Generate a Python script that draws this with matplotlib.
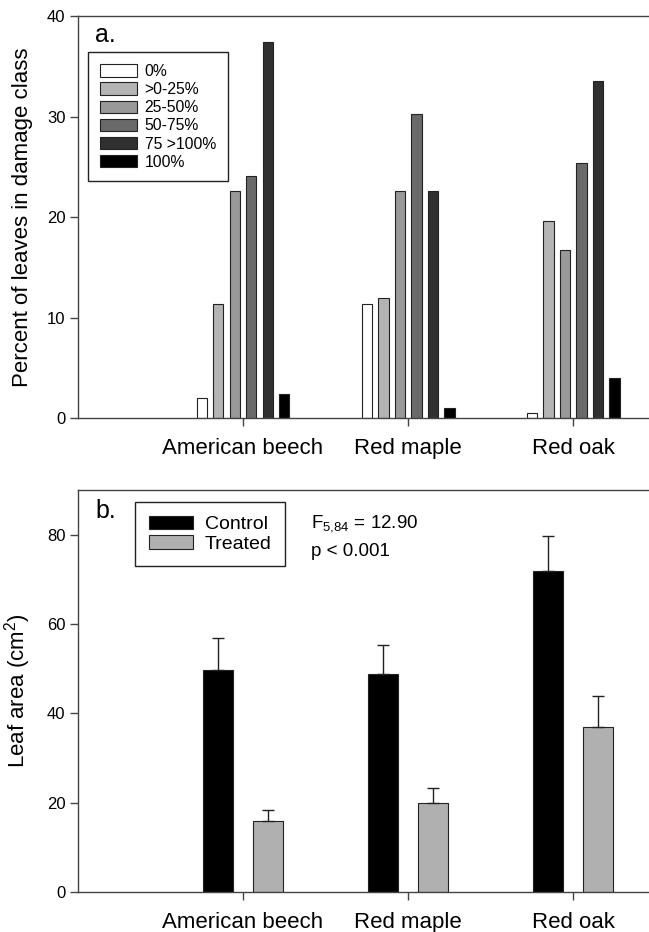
import numpy as np
import matplotlib.pyplot as plt

plt.rcParams['font.family'] = ['Liberation Sans', 'DejaVu Sans']
plt.rcParams['mathtext.fontset'] = 'custom'
plt.rcParams['mathtext.rm'] = 'Liberation Sans'
plt.rcParams['mathtext.it'] = 'Liberation Sans'

species = ["American beech", "Red maple", "Red oak"]

# panel a: percent of leaves in each damage class
damage_classes = ["0%", ">0-25%", "25-50%", "50-75%", "75 >100%", "100%"]
pct_beech = [2.0, 11.3, 22.6, 24.1, 37.4, 2.4]
pct_maple = [11.3, 11.9, 22.6, 30.3, 22.6, 1.0]
pct_oak = [0.5, 19.6, 16.7, 25.4, 33.5, 4.0]

# panel b: leaf area, mean and SE
control_mean = [49.7, 48.9, 71.9]
control_se = [7.1, 6.5, 7.7]
treated_mean = [16.0, 20.0, 36.9]
treated_se = [2.4, 3.2, 6.9]

class_colors = ["white", "#b4b4b4", "#999999", "#6a6a6a", "#303030", "black"]
spine_col = "#444444"

fig = plt.figure(figsize=(6.49, 9.32), dpi=100)
ax1 = fig.add_axes([0.1202, 0.5515, 0.8798, 0.4313])
ax2 = fig.add_axes([0.1202, 0.0429, 0.8798, 0.4313])

x = np.arange(1, len(species) + 1)


def style_axes(ax):
    ax.spines['right'].set_visible(False)
    for s in ['left', 'bottom', 'top']:
        ax.spines[s].set_color(spine_col)
        ax.spines[s].set_linewidth(1.0)
    ax.tick_params(axis='both', direction='out', length=5.5, width=1, color=spine_col)
    ax.tick_params(axis='y', labelsize=12)
    ax.tick_params(axis='x', labelsize=16, pad=9)
    ax.set_xticks(x)
    ax.set_xticklabels(species)
    ax.set_xlim(0, 3.46)


# ---- panel a
data_a = np.array([pct_beech, pct_maple, pct_oak])
bw = 0.063
for i, lab in enumerate(damage_classes):
    ax1.bar(x + (i - 2.5) * 0.1, data_a[:, i], width=bw, color=class_colors[i],
            edgecolor="#222222", linewidth=0.8, label=lab)
style_axes(ax1)
ax1.set_ylim(0, 40)
ax1.set_yticks([0, 10, 20, 30, 40])
ax1.set_ylabel("Percent of leaves in damage class", fontsize=16, labelpad=10)
ax1.text(0.03, 0.952, "a.", transform=ax1.transAxes, fontsize=18, va='center')
leg1 = ax1.legend(loc='upper left', bbox_to_anchor=(0.0175, 0.91), fontsize=11.3,
                  handlelength=2.35, handleheight=0.85, labelspacing=0.2,
                  handletextpad=0.5, borderpad=0.75, borderaxespad=0,
                  fancybox=False, framealpha=1)
leg1.get_frame().set_edgecolor("#222222")
leg1.get_frame().set_linewidth(1.0)

# ---- panel b
off = 0.152
bw2 = 0.18
ax2.bar(x - off, control_mean, width=bw2, color="black", edgecolor="#222222",
        linewidth=0.8, label="Control")
ax2.bar(x + off, treated_mean, width=bw2, color="#b0b0b0", edgecolor="#222222",
        linewidth=0.8, label="Treated")
ax2.errorbar(x - off, control_mean, yerr=[np.zeros(3), control_se], fmt='none',
             ecolor="#222222", elinewidth=1, capsize=4, capthick=1)
ax2.errorbar(x + off, treated_mean, yerr=[np.zeros(3), treated_se], fmt='none',
             ecolor="#222222", elinewidth=1, capsize=4, capthick=1)
style_axes(ax2)
ax2.set_ylim(0, 90)
ax2.set_yticks([0, 20, 40, 60, 80])
ax2.set_ylabel("Leaf area (cm$^2$)", fontsize=16, labelpad=10)
ax2.text(0.03, 0.948, "b.", transform=ax2.transAxes, fontsize=18, va='center')
ax2.text(1.41, 82.5, "F$_{5{,}84}$ = 12.90", fontsize=13.5, va='center')
ax2.text(1.41, 76.3, "p < 0.001", fontsize=13.5, va='center')
leg2 = ax2.legend(loc='upper left', bbox_to_anchor=(0.0998, 0.970), fontsize=14,
                  handlelength=2.3, handleheight=0.7, labelspacing=0.1,
                  handletextpad=0.6, borderpad=0.7, borderaxespad=0,
                  fancybox=False, framealpha=1)
leg2.get_frame().set_edgecolor("#222222")
leg2.get_frame().set_linewidth(1.0)

fig.savefig("out.png", dpi=100)
